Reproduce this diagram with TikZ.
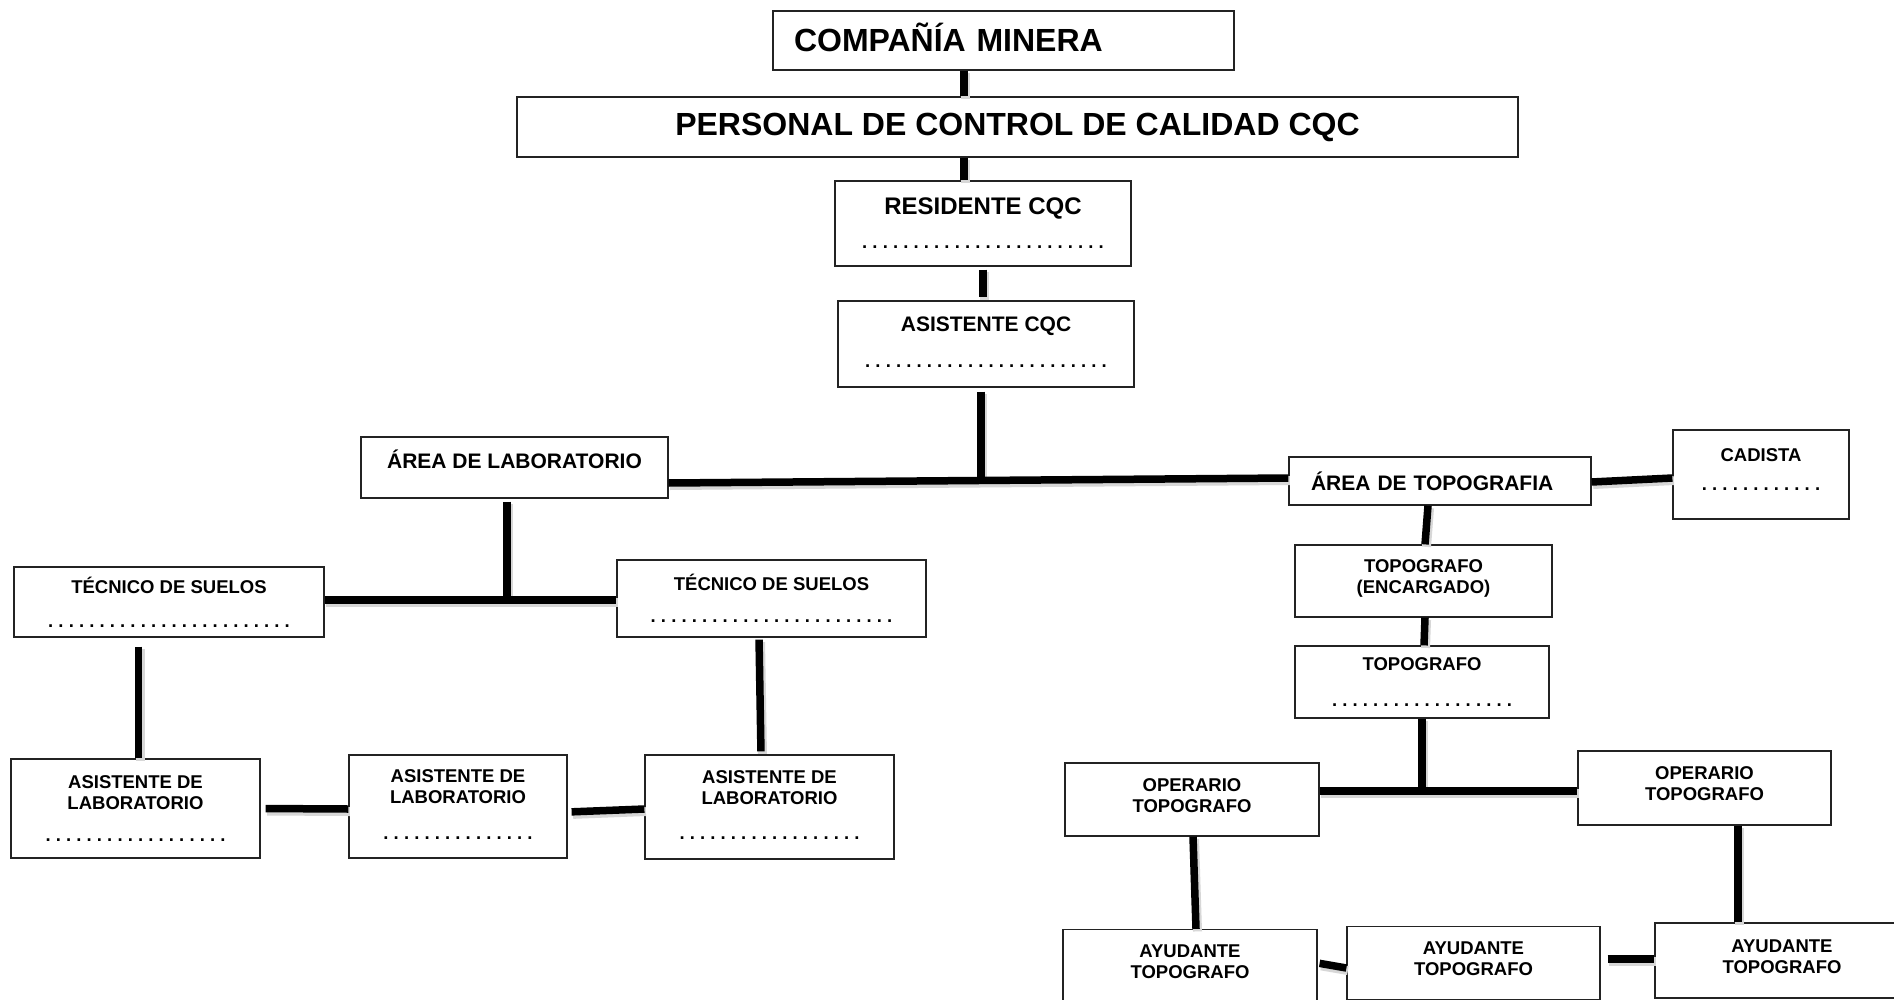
\documentclass[tikz,border=0pt]{standalone}
\usepackage{fontspec}
\setmainfont{Liberation Sans}
\usepackage{xcolor}
\definecolor{cborde}{RGB}{35,35,35}
\definecolor{csombra}{RGB}{215,215,215}

\newcommand{\puntos}[1]{{\fontsize{18.5}{21}\selectfont\foreach \k in {1,...,#1}{.\ }}}

\tikzset{
  caja/.style={draw=cborde, line width=1.2pt, fill=white, inner sep=0pt, align=center,
    font=\bfseries\fontsize{18.5}{21}\selectfont},
  doble/.style={text depth=8pt},
  enlace/.style={line width=7.5pt, black,
    preaction={draw=csombra, line width=9pt, transform canvas={xshift=1.5pt,yshift=-2.5pt}}},
}

\begin{document}
\begin{tikzpicture}[x=1pt, y=-1pt]
\clip (0,0) rectangle (1894,1000);
\fill[white] (0,0) rectangle (1894,1000);

% cabecera
\node[caja, minimum width=461pt, minimum height=59pt, text width=419pt, align=left, text depth=7pt,
  font=\bfseries\fontsize{32}{36}\selectfont] (comp) at (1003.5,40.5) {COMPAÑÍA MINERA};
\node[caja, minimum width=1001pt, minimum height=60pt,
  font=\bfseries\fontsize{32}{36}\selectfont] (pers) at (1017.5,127) {PERSONAL DE CONTROL DE CALIDAD CQC};
\node[caja, minimum width=296pt, minimum height=85pt,
  font=\bfseries\fontsize{24}{28}\selectfont] (resid) at (983,223.5) {RESIDENTE CQC\\[6pt]\puntos{24}};
\node[caja, minimum width=296pt, minimum height=86pt, text depth=3.6pt,
  font=\bfseries\fontsize{21}{25}\selectfont] (asis) at (986,344) {ASISTENTE CQC\\[10.5pt]\puntos{24}};

% areas
\node[caja, minimum width=307pt, minimum height=61pt, text depth=16pt,
  font=\bfseries\fontsize{21}{25}\selectfont] (arealab) at (514.5,467.5) {ÁREA DE LABORATORIO};
\node[caja, minimum width=302pt, minimum height=48pt, text width=258pt, align=left,
  font=\bfseries\fontsize{21}{25}\selectfont] (areatop) at (1440,481) {ÁREA DE TOPOGRAFIA};
\node[caja, minimum width=176pt, minimum height=89pt, text depth=9.6pt] (cadista) at (1761,474.5) {CADISTA\\[8.6pt]\puntos{12}};

% laboratorio
\node[caja, minimum width=310pt, minimum height=70pt] (tec1) at (169,602) {TÉCNICO DE SUELOS\\[13pt]\puntos{24}};
\node[caja, minimum width=309pt, minimum height=77pt] (tec2) at (771.5,598.5) {TÉCNICO DE SUELOS\\[11pt]\puntos{24}};
\node[caja, minimum width=249pt, minimum height=99pt] (al1) at (135.5,808.5) {ASISTENTE DE\\LABORATORIO\\[11pt]\puntos{18}};
\node[caja, minimum width=218pt, minimum height=103pt, text depth=3.6pt] (al2) at (458,806.5) {ASISTENTE DE\\LABORATORIO\\[14.6pt]\puntos{15}};
\node[caja, minimum width=249pt, minimum height=104pt, text depth=3.6pt] (al3) at (769.5,807) {ASISTENTE DE\\LABORATORIO\\[14.6pt]\puntos{18}};

% topografia
\node[caja, doble, minimum width=257pt, minimum height=72pt] (topenc) at (1423.5,581) {TOPOGRAFO\\(ENCARGADO)};
\node[caja, minimum width=254pt, minimum height=72pt] (topo) at (1422,682) {TOPOGRAFO\\[14.6pt]\puntos{18}};
\node[caja, doble, minimum width=254pt, minimum height=73pt] (op1) at (1192,799.5) {OPERARIO\\TOPOGRAFO};
\node[caja, doble, minimum width=253pt, minimum height=74pt] (op2) at (1704.5,788) {OPERARIO\\TOPOGRAFO};
\node[caja, doble, minimum width=254pt, minimum height=73pt] (ay1) at (1190,966) {AYUDANTE\\TOPOGRAFO};
\node[caja, doble, minimum width=253pt, minimum height=73pt] (ay2) at (1473.5,963) {AYUDANTE\\TOPOGRAFO};
\node[caja, doble, minimum width=254pt, minimum height=75pt] (ay3) at (1782,960.5) {AYUDANTE\\TOPOGRAFO};

\coordinate (eje) at (964,0);
\coordinate (nudo1) at (981,480);
\coordinate (nudo2) at (507,600);
\coordinate (nudo3) at (1422,791);

% enlaces
\draw[enlace] (comp.south -| eje) -- (pers.north -| eje);
\draw[enlace] (pers.south -| eje) -- (resid.north -| eje);
\draw[enlace, shorten <=3pt, shorten >=3pt] (resid.south) -- (asis.north -| resid.south);
\draw[enlace, shorten <=4pt] (asis.south -| nudo1) -- (nudo1);
\draw[enlace] ([yshift=-15.5pt]arealab.east) -- ([yshift=3pt]areatop.west);
\draw[enlace] ([yshift=-1pt]areatop.east) -- ([yshift=-3.5pt]cadista.west);

\draw[enlace, shorten <=3pt] (arealab.south -| nudo2) -- (nudo2);
\draw[enlace] (tec1.east |- nudo2) -- (tec2.west |- nudo2);
\draw[enlace, shorten <=9pt] ([xshift=-30.5pt]tec1.south) -- ([xshift=3pt]al1.north);
\draw[enlace, shorten <=2pt, shorten >=3pt] ([xshift=-12.5pt]tec2.south) -- ([xshift=-8.5pt]al3.north);
\draw[enlace, shorten <=5pt] (al1.east) -- ([yshift=-2.5pt]al2.west);
\draw[enlace, shorten <=4pt] ([yshift=-5.5pt]al2.east) -- ([yshift=-2pt]al3.west);

\draw[enlace] ([xshift=-12pt]areatop.south) -- ([xshift=1.5pt]topenc.north);
\draw[enlace] ([xshift=1.5pt]topenc.south) -- ([xshift=2pt]topo.north);
\draw[enlace] (topo.south) -- (nudo3);
\draw[enlace] (op1.east |- nudo3) -- (op2.west |- nudo3);
\draw[enlace] ([xshift=1pt]op1.south) -- ([xshift=6pt]ay1.north);
\draw[enlace] ([xshift=33.5pt]op2.south) -- ([xshift=-44pt]ay3.north);
\draw[enlace, shorten <=2pt] ([yshift=3pt]ay1.east) -- ([yshift=-5pt]ay2.west);
\draw[enlace, shorten <=7pt] ([yshift=4pt]ay2.east) -- ([yshift=1.5pt]ay3.west);
\end{tikzpicture}
\end{document}
